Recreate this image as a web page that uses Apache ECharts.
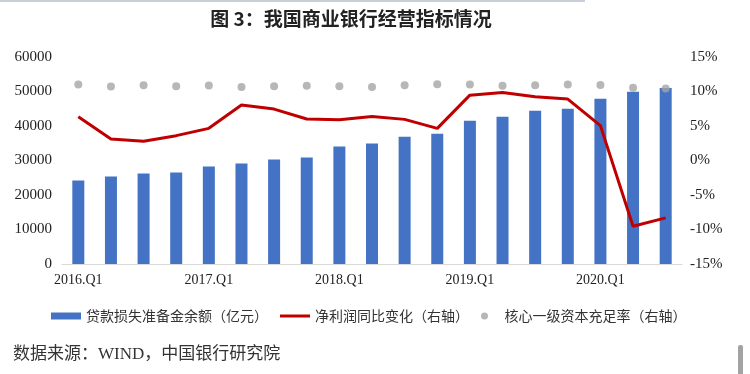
<!DOCTYPE html>
<html><head><meta charset="utf-8">
<script src="https://cdn.jsdelivr.net/npm/echarts@6/dist/echarts.min.js"></script>
<style>html,body{margin:0;padding:0;background:#fff}#c{width:750px;height:374px}</style>
</head><body><div id="c"></div>
<script>
const categories = ['2016.Q1','2016.Q2','2016.Q3','2016.Q4','2017.Q1','2017.Q2','2017.Q3','2017.Q4','2018.Q1','2018.Q2','2018.Q3','2018.Q4','2019.Q1','2019.Q2','2019.Q3','2019.Q4','2020.Q1','2020.Q2','2020.Q3'];
const loanLossReserve = [24230,25380,26250,26540,28270,29130,30290,30860,34040,34900,36920,37780,41530,42690,44420,45000,47880,49900,51050];
const netProfitYoY = [6.35,3.13,2.79,3.6,4.66,8.03,7.45,6.01,5.91,6.39,5.96,4.66,9.47,9.85,9.23,8.9,5.05,-9.52,-8.32];
const coreTier1Ratio = [11.0,10.72,10.91,10.77,10.86,10.67,10.77,10.82,10.77,10.67,10.91,11.06,11.0,10.82,10.91,11.0,10.96,10.53,10.43];
const xTickLabels = ['2016.Q1','2017.Q1','2018.Q1','2019.Q1','2020.Q1'];
const seriesNames = ['贷款损失准备金余额（亿元）','净利润同比变化（右轴）','核心一级资本充足率（右轴）'];

const chart = echarts.init(document.getElementById('c'), null, {renderer:'canvas'});
const serif = "'Liberation Serif','Times New Roman',serif";
const cjk = "'Noto Sans CJK SC','Noto Sans',sans-serif";
chart.setOption({
  animation:false,
  backgroundColor:'#fff',
  title:{text:'图 3：我国商业银行经营指标情况', left:346, top:4, textAlign:'center',
    textStyle:{fontFamily:cjk, fontSize:19, fontWeight:'bold', color:'#222'}},
  graphic:[
    {type:'rect', shape:{x:0,y:0,width:585,height:2}, style:{fill:'#c9cfdb'}},
    {type:'text', left:13, top:346, style:{text:'数据来源：WIND，中国银行研究院', fontFamily:"'Liberation Serif','Noto Sans CJK SC',serif", fontSize:17, fill:'#333'}},
    {type:'rect', shape:{x:738,y:345,width:5,height:29,r:[2,2,0,0]}, style:{fill:'#a3a3a3'}}
  ],
  legend:{left:46, top:304, itemWidth:30, itemHeight:7, itemGap:12,
    textStyle:{fontFamily:cjk, fontSize:14, color:'#333'},
    data:[
      {name:seriesNames[0], icon:'rect'},
      {name:seriesNames[1], icon:'path://M0,0 L30,0 L30,3 L0,3 Z', itemStyle:{color:'#C00000'}},
      {name:seriesNames[2], icon:'circle'}
    ]},
  grid:{left:62, right:68, top:57, bottom:110, containLabel:false},
  xAxis:{type:'category', data:categories,
    axisLine:{lineStyle:{color:'#d9d9d9', width:1}},
    axisTick:{show:false},
    axisLabel:{interval:0, margin:9, fontFamily:serif, fontSize:14, color:'#222',
      formatter:v=> xTickLabels.includes(v) ? v : ''}},
  yAxis:[
    {type:'value', min:0, max:60000, interval:10000, splitLine:{show:false},
      axisLine:{show:false}, axisTick:{show:false},
      axisLabel:{margin:10, fontFamily:serif, fontSize:15, color:'#222', formatter:v=>String(v)}},
    {type:'value', min:-15, max:15, interval:5, splitLine:{show:false},
      axisLine:{show:false}, axisTick:{show:false},
      axisLabel:{margin:8, fontFamily:serif, fontSize:15, color:'#222', formatter:'{value}%'}}
  ],
  series:[
    {name:seriesNames[0], type:'bar', data:loanLossReserve, barWidth:12,
      itemStyle:{color:'#4472C4'}},
    {name:seriesNames[1], type:'line', yAxisIndex:1, data:netProfitYoY, symbol:'none',
      lineStyle:{color:'#C00000', width:3}, itemStyle:{color:'#C00000'}},
    {name:seriesNames[2], type:'scatter', yAxisIndex:1, data:coreTier1Ratio, symbolSize:8,
      itemStyle:{color:'#A5A5A5'}}
  ]
});
</script></body></html>
